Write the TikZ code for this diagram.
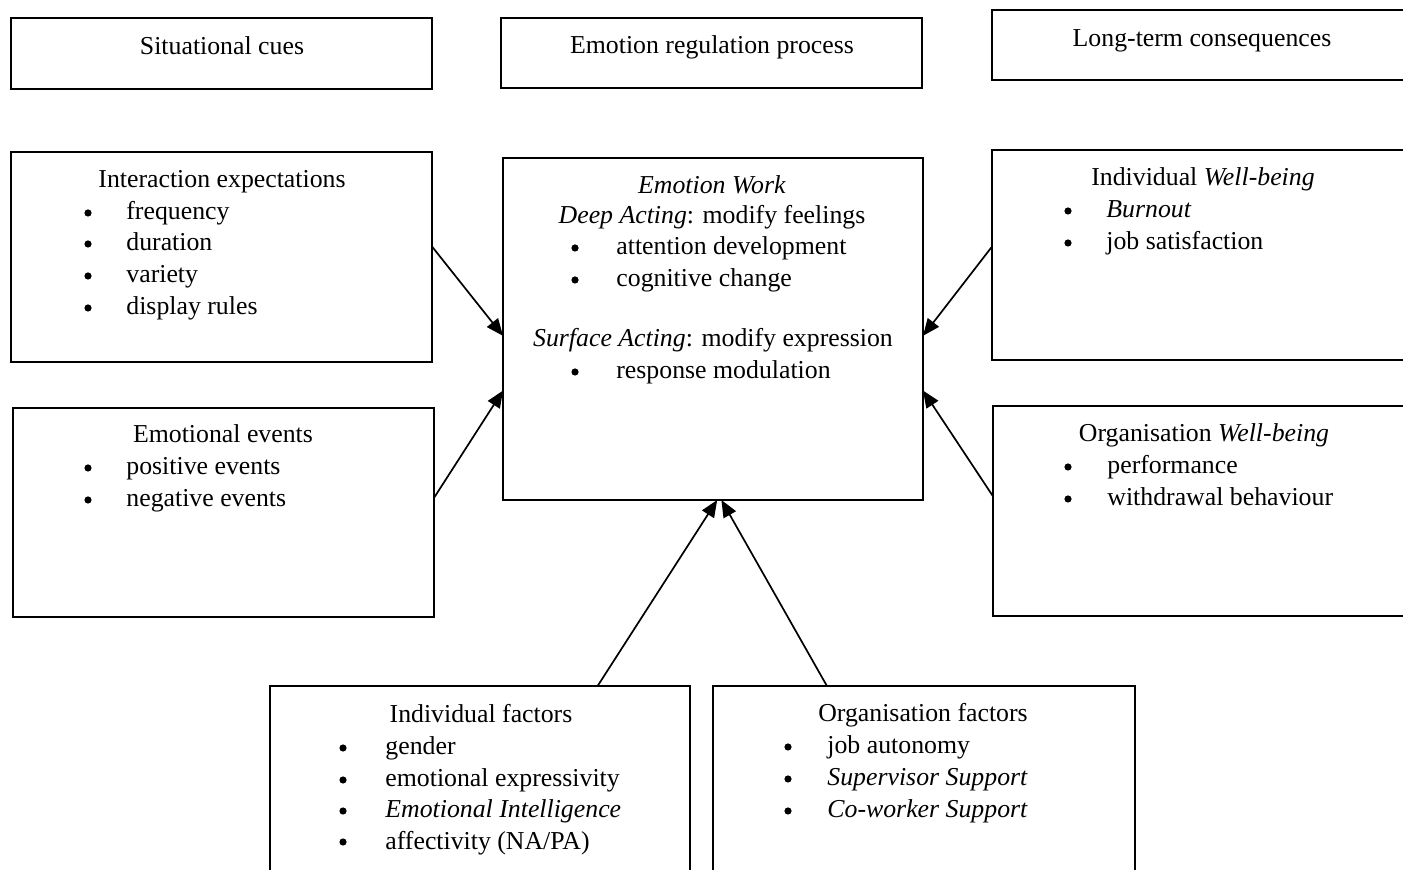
\documentclass[tikz,border=0pt]{standalone}
\usepackage{fontspec}
\setmainfont{Liberation Serif}
\usetikzlibrary{arrows.meta,calc,fit}
\tikzstyle{diagram} = [x = 0.5pt, y = -0.5pt]
\tikzstyle{boxStyle} = [draw=black, line width=0.9pt, inner sep=0pt, outer sep=0pt]
\tikzstyle{labelText} = [font=\fontsize{12.9}{15}\selectfont, inner sep=0pt]
\tikzstyle{bulletDot} = [circle, fill=black, inner sep=0pt, minimum size=3.6pt]
\tikzstyle{flowArrow} = [line width=0.85pt, -{Triangle[length=8.5pt, width=7pt]}]
\newcommand{\diagramBox}[5]{\node [boxStyle, fit={(#2,#3) (#4,#5)}] (#1) {};}
\newcommand{\boxTitle}[4]{\node [labelText, anchor=base] (#1) at (#2,#3+2) {#4};}
\newcommand{\bulletItem}[5]{
  \node [bulletDot] (#1Dot) at (#2,#4-5) {};
  \node [labelText, anchor=base west] (#1) at (#3,#4+2) {#5};
}

\begin{document}
\begin{tikzpicture}[diagram]
\useasboundingbox (0,0) rectangle (1403,870);
\clip (0,0) rectangle (1403,870);
% headings
\diagramBox{cuesBox}{11}{18}{432}{89}
\diagramBox{processBox}{501}{18}{922}{88}
\diagramBox{consequenceBox}{992}{10}{1420}{80}
\boxTitle{cues}{222}{53}{Situational cues}
\boxTitle{process}{712}{52}{Emotion regulation process}
\boxTitle{consequence}{1202}{45}{Long-term consequences}
% situational cues
\diagramBox{interaction}{11}{152}{432}{362}
\boxTitle{interactionTitle}{222}{186}{Interaction expectations}
\bulletItem{frequency}{88}{126}{218}{frequency}
\bulletItem{duration}{88}{126}{249}{duration}
\bulletItem{variety}{88}{126}{281}{variety}
\bulletItem{displayRules}{88}{126}{313}{display rules}
\diagramBox{events}{13}{408}{434}{617}
\boxTitle{eventsTitle}{223}{441}{Emotional events}
\bulletItem{positive}{88}{126}{473}{positive events}
\bulletItem{negative}{88}{126}{505}{negative events}
% emotion work
\diagramBox{emotionWork}{503}{158}{923}{500}
\boxTitle{workTitle}{712}{192}{\textit{Emotion Work}}
\boxTitle{deepActing}{712}{222}{\textit{Deep Acting}: modify feelings}
\bulletItem{attention}{575}{616}{253}{attention development}
\bulletItem{cognitive}{575}{616}{285}{cognitive change}
\boxTitle{surfaceActing}{713}{345}{\textit{Surface Acting}: modify expression}
\bulletItem{modulation}{575}{616}{377}{response modulation}
% consequences
\diagramBox{individualWB}{992}{150}{1420}{360}
\boxTitle{individualTitle}{1203}{184}{Individual \textit{Well-being}}
\bulletItem{burnout}{1068}{1106}{216}{\textit{Burnout}}
\bulletItem{satisfaction}{1068}{1106}{248}{job satisfaction}
\diagramBox{organisationWB}{993}{406}{1420}{616}
\boxTitle{organisationTitle}{1204}{440}{Organisation \textit{Well-being}}
\bulletItem{performance}{1068}{1107}{472}{performance}
\bulletItem{withdrawal}{1068}{1107}{504}{withdrawal behaviour}
% factors
\diagramBox{individualFactors}{270}{686}{690}{900}
\boxTitle{indFactorsTitle}{481}{721}{Individual factors}
\bulletItem{gender}{343}{385}{753}{gender}
\bulletItem{expressivity}{343}{385}{785}{emotional expressivity}
\bulletItem{intelligence}{343}{385}{816}{\textit{Emotional Intelligence}}
\bulletItem{affectivity}{343}{385}{847}{affectivity (NA/PA)}
\diagramBox{organisationFactors}{713}{686}{1135}{900}
\boxTitle{orgFactorsTitle}{923}{720}{Organisation factors}
\bulletItem{autonomy}{788}{827}{752}{job autonomy}
\bulletItem{supervisor}{788}{827}{784}{\textit{Supervisor Support}}
\bulletItem{coworker}{788}{827}{816}{\textit{Co-worker Support}}
% arrows
\draw [flowArrow] ($(interaction.north east)!0.45!(interaction.south east)$) -- ($(emotionWork.north west)!0.52!(emotionWork.south west)$);
\draw [flowArrow] ($(events.north east)!0.43!(events.south east)$) -- ($(emotionWork.north west)!0.68!(emotionWork.south west)$);
\draw [flowArrow] ($(individualWB.north west)!0.46!(individualWB.south west)$) -- ($(emotionWork.north east)!0.52!(emotionWork.south east)$);
\draw [flowArrow] ($(organisationWB.north west)!0.43!(organisationWB.south west)$) -- ($(emotionWork.north east)!0.68!(emotionWork.south east)$);
\draw [flowArrow] ($(individualFactors.north west)!0.78!(individualFactors.north east)$) -- ($(emotionWork.south west)!0.51!(emotionWork.south east)$);
\draw [flowArrow] ($(organisationFactors.north west)!0.27!(organisationFactors.north east)$) -- ($(emotionWork.south west)!0.52!(emotionWork.south east)$);
\end{tikzpicture}
\end{document}
